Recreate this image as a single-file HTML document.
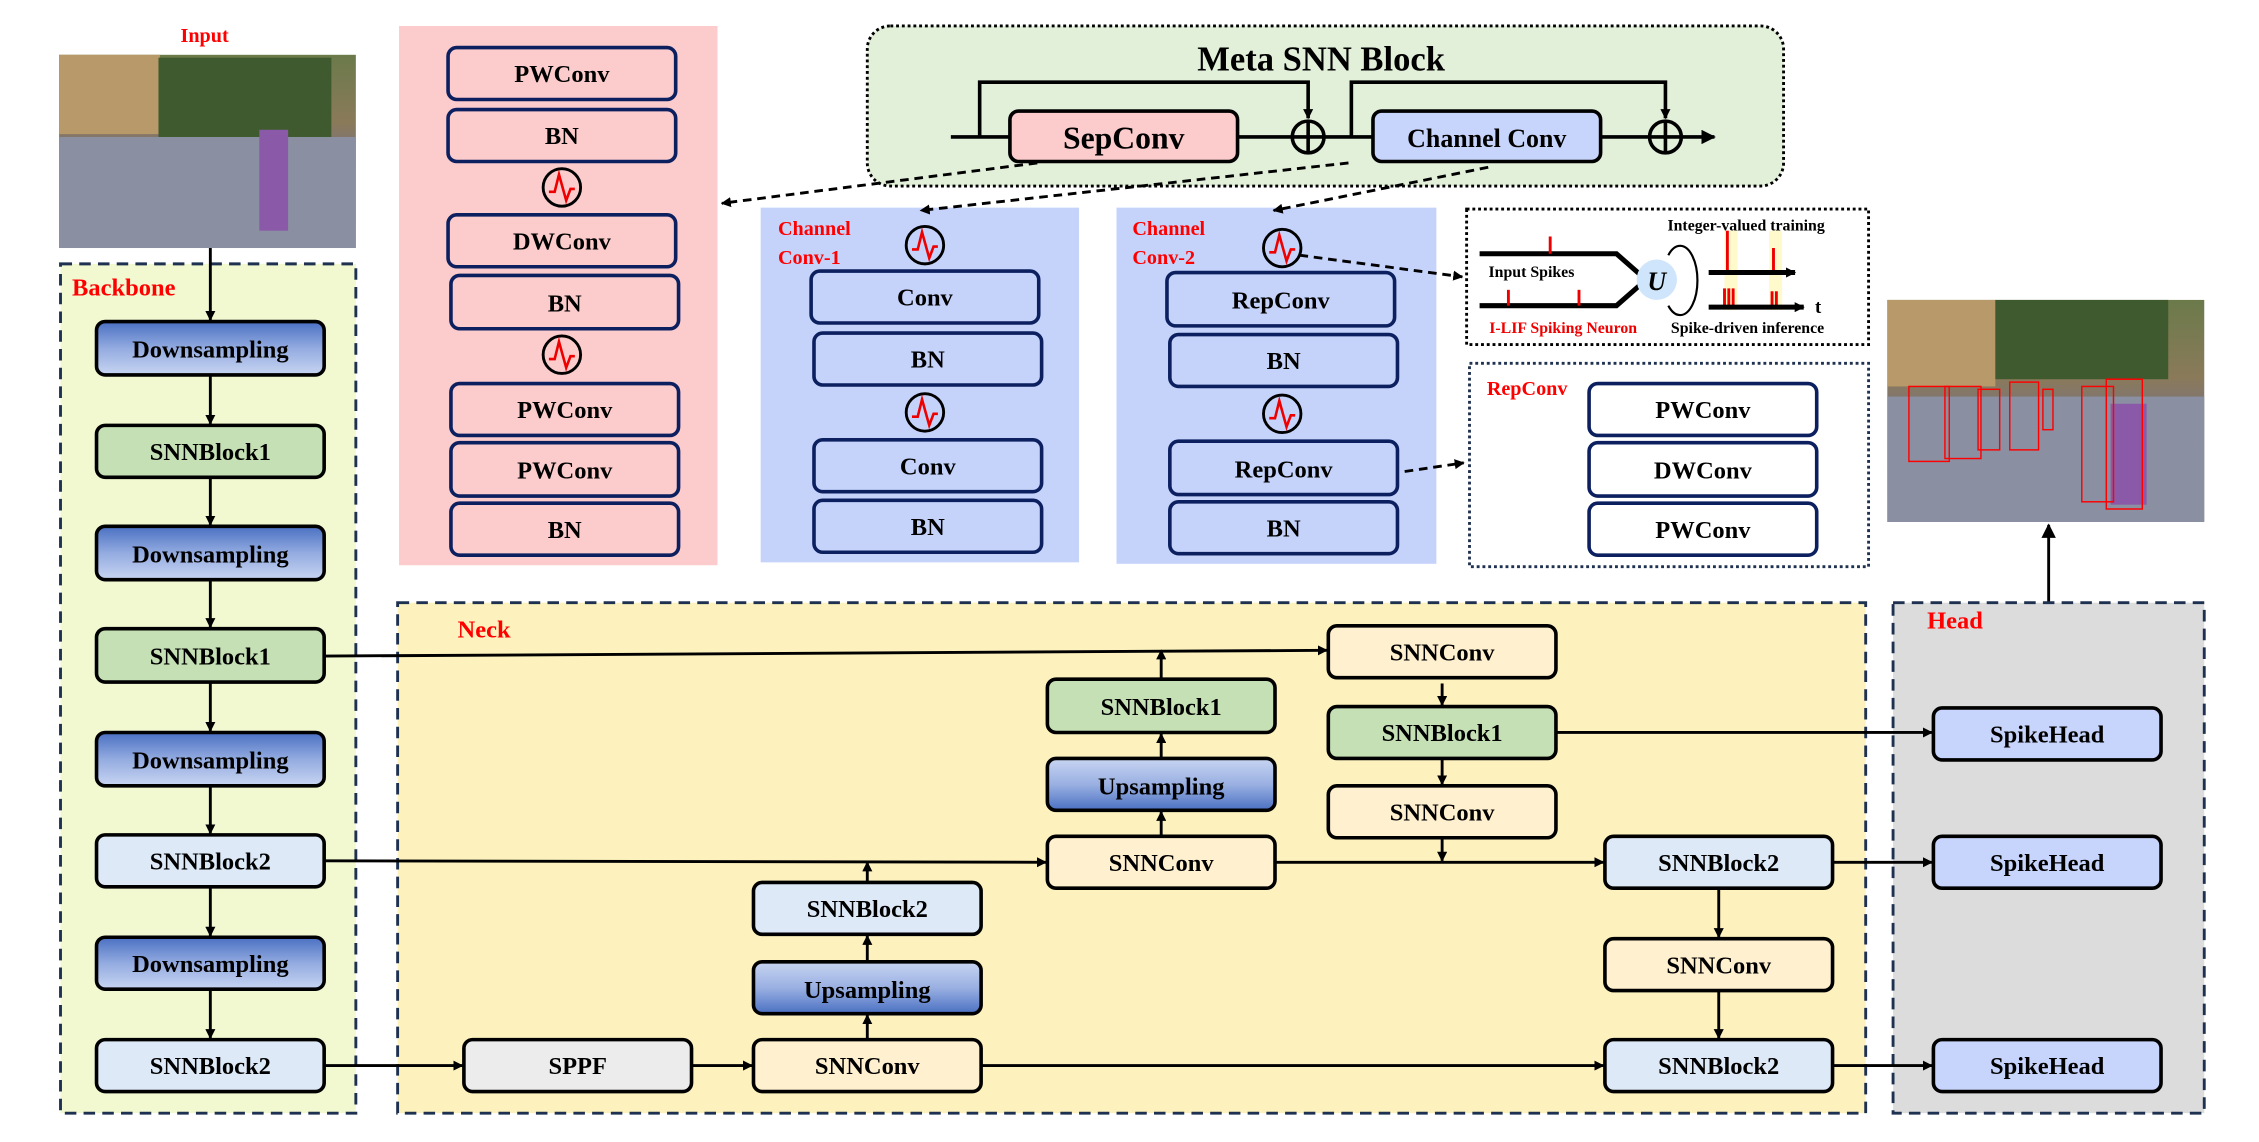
<!DOCTYPE html>
<html><head><meta charset="utf-8"><style>
html,body{margin:0;padding:0;background:#fff}
svg{display:block}
text{font-family:"Liberation Serif",serif;font-weight:bold}
</style></head><body>
<svg width="2259" height="1142" viewBox="0 0 1568 792" preserveAspectRatio="none" xmlns="http://www.w3.org/2000/svg">
<defs>
<linearGradient id="down" x1="0" y1="0" x2="0" y2="1"><stop offset="0" stop-color="#4a70c2"/><stop offset="0.5" stop-color="#93abe0"/><stop offset="1" stop-color="#c8d5f2"/></linearGradient>
<linearGradient id="up" x1="0" y1="0" x2="0" y2="1"><stop offset="0" stop-color="#c8d5f2"/><stop offset="0.5" stop-color="#9ab0e2"/><stop offset="1" stop-color="#4a70c2"/></linearGradient>
<linearGradient id="photo" x1="0" y1="0" x2="0" y2="1"><stop offset="0" stop-color="#6b7a4a"/><stop offset="0.35" stop-color="#8a7a5a"/><stop offset="0.5" stop-color="#7d7478"/><stop offset="1" stop-color="#8e93a6"/></linearGradient>
<marker id="ar" viewBox="0 0 10 10" refX="9" refY="5" markerWidth="7" markerHeight="7" orient="auto" markerUnits="userSpaceOnUse"><path d="M0,0 L10,5 L0,10 z" fill="#000"/></marker>
<marker id="arb" viewBox="0 0 10 10" refX="9" refY="5" markerWidth="10" markerHeight="10" orient="auto" markerUnits="userSpaceOnUse"><path d="M0,0 L10,5 L0,10 z" fill="#000"/></marker>
<g id="spk"><circle r="13" fill="none" stroke="#000" stroke-width="2"/><polyline points="-9,3 -5,3 -2,-9 3,9 6,1 9,1" fill="none" stroke="#e00" stroke-width="1.8"/></g>
</defs>

<!-- Input -->
<text x="142" y="29" font-size="14" fill="#f00" text-anchor="middle">Input</text>
<rect x="41" y="38" width="206" height="134" fill="url(#photo)"/>
<rect x="41" y="38" width="70" height="55" fill="#b89a6a"/>
<rect x="110" y="40" width="120" height="55" fill="#3f5a2e"/>
<rect x="41" y="95" width="206" height="77" fill="#8a8fa2"/>
<rect x="180" y="90" width="20" height="70" fill="#8a5aa8"/>

<!-- Backbone -->
<rect x="42" y="183" width="205" height="589" fill="#f2f8d0" stroke="#1f3150" stroke-width="2" stroke-dasharray="8,5"/>
<text x="50" y="205" font-size="17" fill="#f00">Backbone</text>

<!-- Pink panel -->
<rect x="277" y="18" width="221" height="374" fill="#fccbcb"/>
<rect x="528" y="144" width="221" height="246" fill="#c5d3fb"/>
<rect x="775" y="144" width="222" height="247" fill="#c5d3fb"/>
<text x="540" y="163" font-size="14" fill="#f00">Channel</text>
<text x="540" y="183" font-size="14" fill="#f00">Conv-1</text>
<text x="786" y="163" font-size="14" fill="#f00">Channel</text>
<text x="786" y="183" font-size="14" fill="#f00">Conv-2</text>

<!-- Meta SNN block -->
<rect x="602" y="18" width="636" height="111" rx="16" fill="#e2efd9" stroke="#000" stroke-width="2" stroke-dasharray="2,2"/>
<text x="917" y="49" font-size="24" text-anchor="middle">Meta SNN Block</text>
<g stroke="#000" stroke-width="2.5" fill="none">
<line x1="660" y1="95" x2="701" y2="95"/>
<line x1="859" y1="95" x2="953" y2="95"/>
<line x1="1111" y1="95" x2="1190" y2="95" marker-end="url(#arb)"/>
<polyline points="680,95 680,57 908,57 908,82" marker-end="url(#ar)"/>
<polyline points="938,95 938,57 1156,57 1156,82" marker-end="url(#ar)"/>
<circle cx="908" cy="95" r="11" fill="#e2efd9"/><line x1="897" y1="95" x2="919" y2="95"/><line x1="908" y1="84" x2="908" y2="106"/>
<circle cx="1156" cy="95" r="11" fill="#e2efd9"/><line x1="1145" y1="95" x2="1167" y2="95"/><line x1="1156" y1="84" x2="1156" y2="106"/>
</g>
<rect x="701" y="77" width="158" height="35" rx="6" fill="#fccbcb" stroke="#000" stroke-width="2.5"/>
<text x="780" y="103" font-size="22" text-anchor="middle">SepConv</text>
<rect x="953" y="77" width="158" height="35" rx="6" fill="#c7d4fb" stroke="#000" stroke-width="2.5"/>
<text x="1032" y="102" font-size="18" text-anchor="middle">Channel Conv</text>

<!-- dashed connectors -->
<g stroke="#000" stroke-width="2" stroke-dasharray="6,4" fill="none">
<line x1="720" y1="113" x2="501" y2="141" marker-end="url(#ar)"/>
<line x1="936" y1="113" x2="639" y2="146" marker-end="url(#ar)"/>
<line x1="1033" y1="116" x2="884" y2="146" marker-end="url(#ar)"/>
<line x1="902" y1="177" x2="1015" y2="192" marker-end="url(#ar)"/>
<line x1="975" y1="327" x2="1016" y2="321" marker-end="url(#ar)"/>
</g>

<g stroke="#0c2060" stroke-width="2.5">
<rect x="311" y="33" width="158" height="36" rx="6" fill="#fccbcb"/>
<rect x="311" y="76" width="158" height="36" rx="6" fill="#fccbcb"/>
<rect x="311" y="149" width="158" height="36" rx="6" fill="#fccbcb"/>
<rect x="313" y="191" width="158" height="37" rx="6" fill="#fccbcb"/>
<rect x="313" y="266" width="158" height="36" rx="6" fill="#fccbcb"/>
<rect x="313" y="307" width="158" height="37" rx="6" fill="#fccbcb"/>
<rect x="313" y="349" width="158" height="36" rx="6" fill="#fccbcb"/>
<rect x="563" y="188" width="158" height="36" rx="6" fill="#c5d3fb"/>
<rect x="565" y="231" width="158" height="36" rx="6" fill="#c5d3fb"/>
<rect x="565" y="305" width="158" height="36" rx="6" fill="#c5d3fb"/>
<rect x="565" y="347" width="158" height="36" rx="6" fill="#c5d3fb"/>
<rect x="810" y="189" width="158" height="37" rx="6" fill="#c5d3fb"/>
<rect x="812" y="232" width="158" height="36" rx="6" fill="#c5d3fb"/>
<rect x="812" y="306" width="158" height="37" rx="6" fill="#c5d3fb"/>
<rect x="812" y="348" width="158" height="36" rx="6" fill="#c5d3fb"/>
<rect x="1103" y="266" width="158" height="36" rx="6" fill="#fff"/>
<rect x="1103" y="307" width="158" height="37" rx="6" fill="#fff"/>
<rect x="1103" y="349" width="158" height="36" rx="6" fill="#fff"/>
</g>
<g font-size="17" text-anchor="middle">
<text x="390" y="57">PWConv</text><text x="390" y="100">BN</text><text x="390" y="173">DWConv</text><text x="392" y="216">BN</text>
<text x="392" y="290">PWConv</text><text x="392" y="332">PWConv</text><text x="392" y="373">BN</text>
<text x="642" y="212">Conv</text><text x="644" y="255">BN</text><text x="644" y="329">Conv</text><text x="644" y="371">BN</text>
<text x="889" y="214">RepConv</text><text x="891" y="256">BN</text><text x="891" y="331">RepConv</text><text x="891" y="372">BN</text>
<text x="1182" y="290">PWConv</text><text x="1182" y="332">DWConv</text><text x="1182" y="373">PWConv</text>
</g>
<use href="#spk" x="390" y="130"/><use href="#spk" x="390" y="246"/>
<use href="#spk" x="642" y="170"/><use href="#spk" x="642" y="286"/>
<use href="#spk" x="890" y="172"/><use href="#spk" x="890" y="287"/>

<!-- I-LIF box -->
<rect x="1018" y="145" width="279" height="94" fill="#fff" stroke="#000" stroke-width="2" stroke-dasharray="2,2"/>
<rect x="1197" y="160" width="9" height="55" fill="#fffacc"/><rect x="1228" y="160" width="9" height="55" fill="#fffacc"/>
<text x="1212" y="160" font-size="11" text-anchor="middle">Integer-valued training</text>
<text x="1063" y="192" font-size="11" text-anchor="middle">Input Spikes</text>
<g stroke="#000" stroke-width="3.5" fill="none">
<polyline points="1027,176 1122,176 1138,190"/>
<polyline points="1027,212 1122,212 1138,198"/>
</g>
<g stroke="#e00" stroke-width="2">
<line x1="1076" y1="164" x2="1076" y2="176"/><line x1="1047" y1="201" x2="1047" y2="212"/><line x1="1096" y1="201" x2="1096" y2="212"/>
<line x1="1199" y1="160" x2="1199" y2="189"/><line x1="1231" y1="172" x2="1231" y2="189"/>
<line x1="1197" y1="200" x2="1197" y2="212"/><line x1="1200" y1="200" x2="1200" y2="212"/><line x1="1203" y1="200" x2="1203" y2="212"/>
<line x1="1230" y1="202" x2="1230" y2="212"/><line x1="1233" y1="202" x2="1233" y2="212"/>
</g>
<circle cx="1150" cy="194" r="14" fill="#cfe5fb"/>
<text x="1150" y="201" font-size="18" font-weight="normal" font-style="italic" text-anchor="middle">U</text>
<path d="M1158,177 A12,24 0 1,1 1158,212" fill="none" stroke="#000" stroke-width="1.5"/>
<g stroke="#000" stroke-width="3.5"><line x1="1186" y1="189" x2="1246" y2="189" marker-end="url(#ar)"/><line x1="1186" y1="213" x2="1252" y2="213" marker-end="url(#ar)"/></g>
<text x="1262" y="217" font-size="13" text-anchor="middle">t</text>
<text x="1085" y="231" font-size="11" fill="#e00" text-anchor="middle">I-LIF Spiking Neuron</text>
<text x="1213" y="231" font-size="11" text-anchor="middle">Spike-driven inference</text>

<rect x="1020" y="252" width="277" height="141" fill="none" stroke="#1f3150" stroke-width="2" stroke-dasharray="2,2"/>
<text x="1060" y="274" font-size="14" fill="#f00" text-anchor="middle">RepConv</text>

<!-- output image -->
<rect x="1310" y="208" width="220" height="154" fill="url(#photo)"/>
<rect x="1310" y="208" width="75" height="60" fill="#b89a6a"/>
<rect x="1385" y="208" width="120" height="55" fill="#3f5a2e"/>
<rect x="1310" y="275" width="220" height="87" fill="#8a8fa2"/>
<rect x="1465" y="280" width="25" height="70" fill="#8a5aa8"/>
<g fill="none" stroke="#f00" stroke-width="1">
<rect x="1325" y="268" width="28" height="52"/><rect x="1350" y="268" width="25" height="50"/><rect x="1373" y="270" width="15" height="42"/>
<rect x="1395" y="265" width="20" height="47"/><rect x="1418" y="270" width="7" height="28"/><rect x="1445" y="268" width="22" height="80"/><rect x="1462" y="263" width="25" height="90"/>
</g>
<line x1="1422" y1="418" x2="1422" y2="364" stroke="#000" stroke-width="2" marker-end="url(#arb)"/>

<!-- Neck & head -->
<rect x="276" y="418" width="1019" height="354" fill="#fdf2bd" stroke="#1f3150" stroke-width="2" stroke-dasharray="8,5"/>
<text x="336" y="442" font-size="17" fill="#f00" text-anchor="middle">Neck</text>
<rect x="1314" y="418" width="216" height="354" fill="#dcdcdc" stroke="#1f3150" stroke-width="2" stroke-dasharray="8,5"/>
<text x="1357" y="436" font-size="17" fill="#f00" text-anchor="middle">Head</text>

<g stroke="#000" stroke-width="2" fill="none">
<line x1="146" y1="172" x2="146" y2="222" marker-end="url(#ar)"/>
<line x1="146" y1="260" x2="146" y2="294" marker-end="url(#ar)"/>
<line x1="146" y1="331" x2="146" y2="364" marker-end="url(#ar)"/>
<line x1="146" y1="402" x2="146" y2="435" marker-end="url(#ar)"/>
<line x1="146" y1="473" x2="146" y2="507" marker-end="url(#ar)"/>
<line x1="146" y1="545" x2="146" y2="578" marker-end="url(#ar)"/>
<line x1="146" y1="615" x2="146" y2="649" marker-end="url(#ar)"/>
<line x1="146" y1="686" x2="146" y2="720" marker-end="url(#ar)"/>
<line x1="225" y1="455" x2="921" y2="451" marker-end="url(#ar)"/>
<line x1="225" y1="597" x2="726" y2="598" marker-end="url(#ar)"/>
<line x1="225" y1="739" x2="321" y2="739" marker-end="url(#ar)"/>
<line x1="480" y1="739" x2="522" y2="739" marker-end="url(#ar)"/>
<line x1="681" y1="739" x2="1113" y2="739" marker-end="url(#ar)"/>
<line x1="602" y1="721" x2="602" y2="704" marker-end="url(#ar)"/>
<line x1="602" y1="667" x2="602" y2="649" marker-end="url(#ar)"/>
<line x1="602" y1="612" x2="602" y2="598" marker-end="url(#ar)"/>
<line x1="806" y1="526" x2="806" y2="509" marker-end="url(#ar)"/>
<line x1="806" y1="471" x2="806" y2="451" marker-end="url(#ar)"/>
<line x1="806" y1="580" x2="806" y2="563" marker-end="url(#ar)"/>
<line x1="1001" y1="474" x2="1001" y2="489" marker-end="url(#ar)"/>
<line x1="1001" y1="526" x2="1001" y2="544" marker-end="url(#ar)"/>
<line x1="1001" y1="581" x2="1001" y2="597" marker-end="url(#ar)"/>
<line x1="885" y1="598" x2="1113" y2="598" marker-end="url(#ar)"/>
<line x1="1193" y1="616" x2="1193" y2="650" marker-end="url(#ar)"/>
<line x1="1193" y1="687" x2="1193" y2="720" marker-end="url(#ar)"/>
<line x1="1080" y1="508" x2="1341" y2="508" marker-end="url(#ar)"/>
<line x1="1272" y1="598" x2="1341" y2="598" marker-end="url(#ar)"/>
<line x1="1272" y1="739" x2="1341" y2="739" marker-end="url(#ar)"/>
</g>

<g stroke="#000" stroke-width="2.5">
<rect x="67" y="223" width="158" height="37" rx="6" fill="url(#down)"/>
<rect x="67" y="295" width="158" height="36" rx="6" fill="#c5e0b4"/>
<rect x="67" y="365" width="158" height="37" rx="6" fill="url(#down)"/>
<rect x="67" y="436" width="158" height="37" rx="6" fill="#c5e0b4"/>
<rect x="67" y="508" width="158" height="37" rx="6" fill="url(#down)"/>
<rect x="67" y="579" width="158" height="36" rx="6" fill="#dde9f7"/>
<rect x="67" y="650" width="158" height="36" rx="6" fill="url(#down)"/>
<rect x="67" y="721" width="158" height="36" rx="6" fill="#dde9f7"/>
<rect x="322" y="721" width="158" height="36" rx="6" fill="#ececec"/>
<rect x="523" y="721" width="158" height="36" rx="6" fill="#fff0cf"/>
<rect x="523" y="667" width="158" height="36" rx="6" fill="url(#up)"/>
<rect x="523" y="612" width="158" height="36" rx="6" fill="#dde9f7"/>
<rect x="727" y="580" width="158" height="36" rx="6" fill="#fff0cf"/>
<rect x="727" y="526" width="158" height="36" rx="6" fill="url(#up)"/>
<rect x="727" y="471" width="158" height="37" rx="6" fill="#c5e0b4"/>
<rect x="922" y="434" width="158" height="36" rx="6" fill="#fff0cf"/>
<rect x="922" y="490" width="158" height="36" rx="6" fill="#c5e0b4"/>
<rect x="922" y="545" width="158" height="36" rx="6" fill="#fff0cf"/>
<rect x="1114" y="580" width="158" height="36" rx="6" fill="#dde9f7"/>
<rect x="1114" y="651" width="158" height="36" rx="6" fill="#fff0cf"/>
<rect x="1114" y="721" width="158" height="36" rx="6" fill="#dde9f7"/>
<rect x="1342" y="491" width="158" height="36" rx="6" fill="#c7d4fb"/>
<rect x="1342" y="580" width="158" height="36" rx="6" fill="#c7d4fb"/>
<rect x="1342" y="721" width="158" height="36" rx="6" fill="#c7d4fb"/>
</g>
<g font-size="17" text-anchor="middle">
<text x="146" y="248">Downsampling</text><text x="146" y="319">SNNBlock1</text><text x="146" y="390">Downsampling</text>
<text x="146" y="461">SNNBlock1</text><text x="146" y="533">Downsampling</text><text x="146" y="603">SNNBlock2</text>
<text x="146" y="674">Downsampling</text><text x="146" y="745">SNNBlock2</text>
<text x="401" y="745">SPPF</text><text x="602" y="745">SNNConv</text><text x="602" y="692">Upsampling</text><text x="602" y="636">SNNBlock2</text>
<text x="806" y="604">SNNConv</text><text x="806" y="551">Upsampling</text><text x="806" y="496">SNNBlock1</text>
<text x="1001" y="458">SNNConv</text><text x="1001" y="514">SNNBlock1</text><text x="1001" y="569">SNNConv</text>
<text x="1193" y="604">SNNBlock2</text><text x="1193" y="675">SNNConv</text><text x="1193" y="745">SNNBlock2</text>
<text x="1421" y="515">SpikeHead</text><text x="1421" y="604">SpikeHead</text><text x="1421" y="745">SpikeHead</text>
</g>
</svg>
</body></html>
